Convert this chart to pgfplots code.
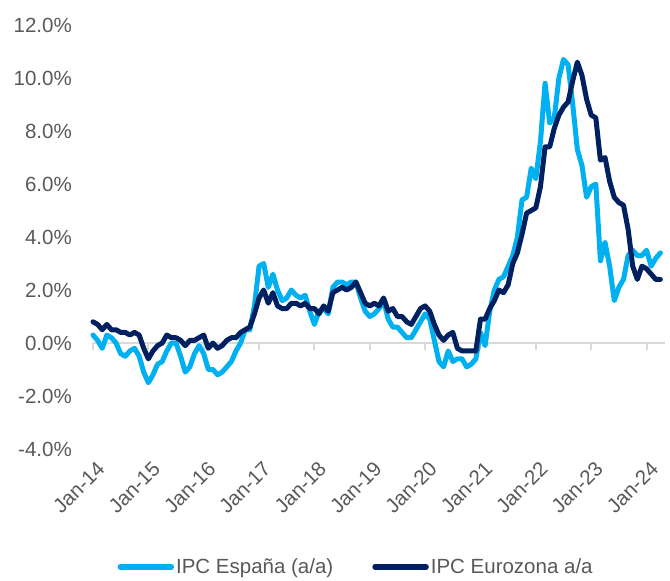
\documentclass[border=0pt]{standalone}
\usepackage{fontspec}
\setmainfont{Liberation Sans}
\usepackage{pgfplots}
\usepackage{pgfplotstable}
\pgfplotsset{compat=1.18}

\definecolor{espana}{HTML}{00B0F0}
\definecolor{eurozona}{HTML}{002060}
\definecolor{labgray}{HTML}{595959}
\definecolor{axgray}{HTML}{D9D9D9}
\newcommand\fs{\fontsize{20.5pt}{24pt}\selectfont}

% month index (0 = Jan-14), IPC Espana, IPC Eurozona
\pgfplotstableread{
m es ez
0 0.3 0.8
1 0.1 0.7
2 -0.2 0.5
3 0.3 0.7
4 0.2 0.5
5 0.0 0.5
6 -0.4 0.4
7 -0.5 0.4
8 -0.3 0.3
9 -0.2 0.4
10 -0.5 0.3
11 -1.1 -0.2
12 -1.5 -0.6
13 -1.2 -0.3
14 -0.8 -0.1
15 -0.7 0.0
16 -0.3 0.3
17 0.0 0.2
18 0.0 0.2
19 -0.5 0.1
20 -1.1 -0.1
21 -0.9 0.1
22 -0.4 0.1
23 -0.1 0.2
24 -0.4 0.3
25 -1.0 -0.2
26 -1.0 0.0
27 -1.2 -0.2
28 -1.1 -0.1
29 -0.9 0.1
30 -0.7 0.2
31 -0.3 0.2
32 0.0 0.4
33 0.5 0.5
34 0.5 0.6
35 1.4 1.1
36 2.9 1.7
37 3.0 2.0
38 2.1 1.5
39 2.6 1.9
40 2.0 1.4
41 1.6 1.3
42 1.7 1.3
43 2.0 1.5
44 1.8 1.5
45 1.7 1.4
46 1.8 1.5
47 1.2 1.3
48 0.7 1.3
49 1.2 1.1
50 1.3 1.4
51 1.1 1.2
52 2.1 1.9
53 2.3 2.0
54 2.3 2.1
55 2.2 2.0
56 2.3 2.1
57 2.3 2.3
58 1.7 1.9
59 1.2 1.5
60 1.0 1.4
61 1.1 1.5
62 1.3 1.4
63 1.6 1.7
64 0.9 1.2
65 0.6 1.3
66 0.6 1.0
67 0.4 1.0
68 0.2 0.8
69 0.2 0.7
70 0.5 1.0
71 0.8 1.3
72 1.1 1.4
73 0.9 1.2
74 0.1 0.7
75 -0.7 0.3
76 -0.9 0.1
77 -0.3 0.3
78 -0.7 0.4
79 -0.6 -0.2
80 -0.6 -0.3
81 -0.9 -0.3
82 -0.8 -0.3
83 -0.6 -0.3
84 0.4 0.9
85 -0.1 0.9
86 1.2 1.3
87 2.0 1.6
88 2.4 2.0
89 2.5 1.9
90 2.9 2.2
91 3.3 3.0
92 4.0 3.4
93 5.4 4.1
94 5.5 4.9
95 6.6 5.0
96 6.2 5.1
97 7.6 5.9
98 9.8 7.4
99 8.3 7.4
100 8.5 8.1
101 10.0 8.6
102 10.7 8.9
103 10.5 9.1
104 9.0 9.9
105 7.3 10.6
106 6.7 10.1
107 5.5 9.2
108 5.9 8.6
109 6.0 8.5
110 3.1 6.9
111 3.8 7.0
112 2.9 6.1
113 1.6 5.5
114 2.1 5.3
115 2.4 5.2
116 3.3 4.3
117 3.5 2.9
118 3.3 2.4
119 3.3 2.9
120 3.5 2.8
121 2.9 2.6
122 3.2 2.4
123 3.4 2.4
}\ipc

\begin{document}
\begin{tikzpicture}
\begin{axis}[
  scale only axis,
  width=572pt, height=424pt,
  xmin=0, xmax=124,
  ymin=-4, ymax=12,
  clip=false,
  axis line style={draw=none},
  major tick length=0pt,
  tick pos=left,
  xtick={0,12,...,120},
  xticklabels={Jan-14,Jan-15,Jan-16,Jan-17,Jan-18,Jan-19,Jan-20,Jan-21,Jan-22,Jan-23,Jan-24},
  ytick={-4,-2,...,12},
  yticklabel={\pgfmathprintnumber[fixed,fixed zerofill,precision=1]{\tick}\%},
  /pgf/number format/assume math mode=true,
  every tick label/.append style={font=\fs, text=labgray},
  yticklabel style={anchor=east, inner sep=0pt, xshift=-21pt},
  xticklabel style={xshift=3pt, yshift=-11pt, rotate=45, anchor=north east, inner sep=0pt},
  legend style={draw=none, fill=none, font=\fs, text=labgray,
    at={(0.46,-0.278)}, anchor=center, legend columns=2,
    /tikz/every even column/.append style={column sep=37pt}},
  legend image code/.code={\draw[#1, line width=5.5pt] (0pt,0pt) -- (51pt,0pt);},
]
\draw[axgray, line width=2pt] (axis cs:0,0) -- (axis cs:124,0);
\pgfplotsinvokeforeach{0,12,...,120}{
  \draw[axgray, line width=2pt] (axis cs:#1,0) -- ++(0pt,-7pt);
}
\addplot[espana, line width=5pt, line join=round, line cap=round] table[x=m, y=es] {\ipc};
\addlegendentry{IPC España (a/a)}
\addplot[eurozona, line width=5pt, line join=round, line cap=round] table[x=m, y=ez] {\ipc};
\addlegendentry{IPC Eurozona a/a}
\end{axis}
\path (-93pt,449pt) rectangle (577pt,-132pt);
\end{tikzpicture}
\end{document}
